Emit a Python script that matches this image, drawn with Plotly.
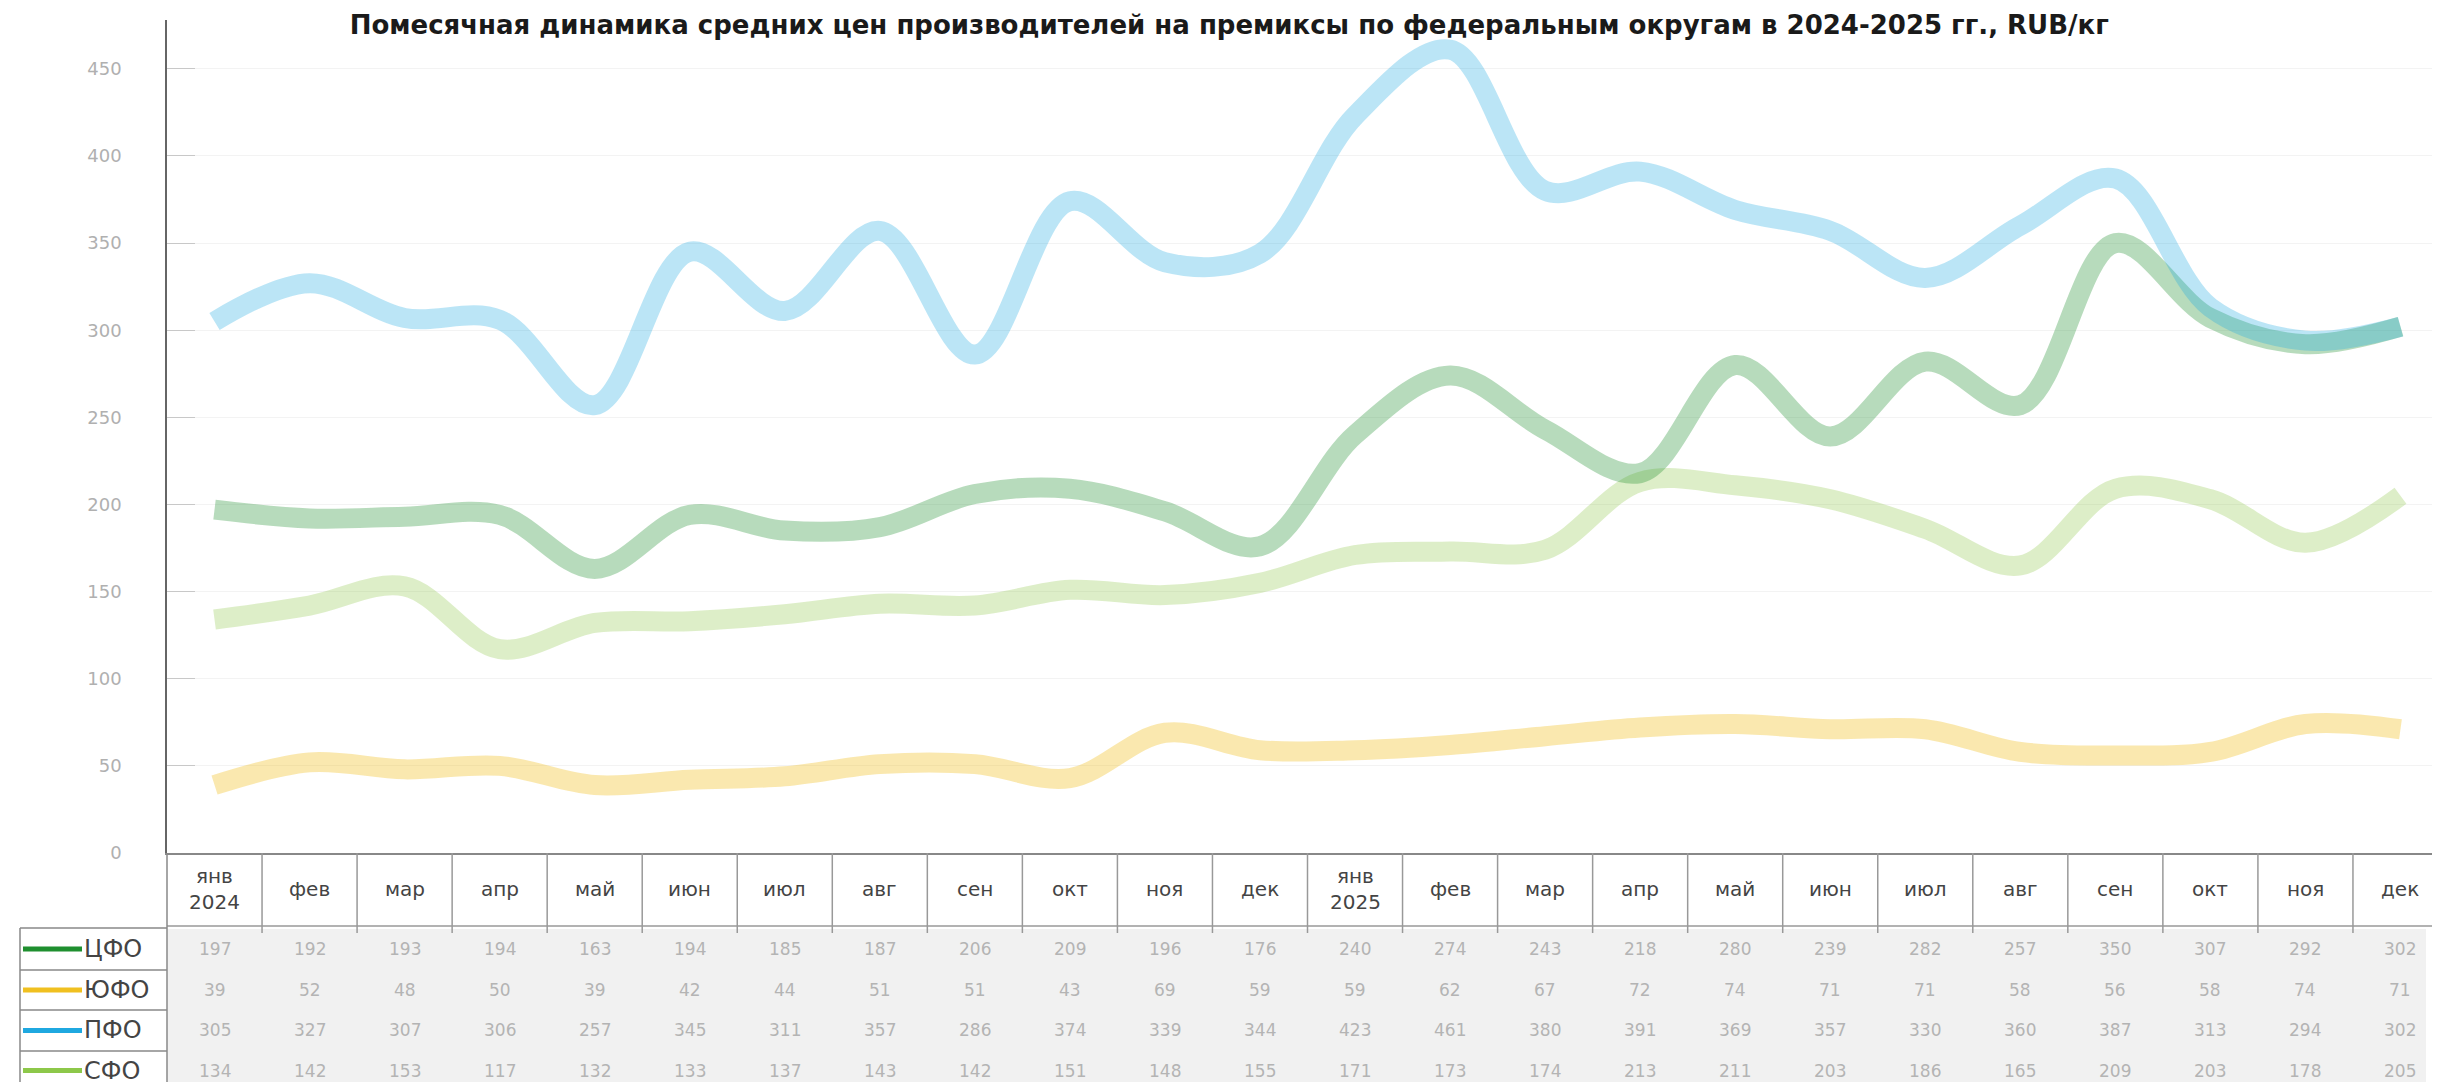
import plotly.graph_objects as go

# ---------------- data ----------------
months = ["янв 2024", "фев 2024", "мар 2024", "апр 2024", "май 2024", "июн 2024",
          "июл 2024", "авг 2024", "сен 2024", "окт 2024", "ноя 2024", "дек 2024",
          "янв 2025", "фев 2025", "мар 2025", "апр 2025", "май 2025", "июн 2025",
          "июл 2025", "авг 2025", "сен 2025", "окт 2025", "ноя 2025", "дек 2025"]
month_labels = ["янв<br>2024", "фев", "мар", "апр", "май", "июн", "июл", "авг", "сен",
                "окт", "ноя", "дек", "янв<br>2025", "фев", "мар", "апр", "май", "июн",
                "июл", "авг", "сен", "окт", "ноя", "дек"]

cfo = [197, 192, 193, 194, 163, 194, 185, 187, 206, 209, 196, 176,
       240, 274, 243, 218, 280, 239, 282, 257, 350, 307, 292, 302]
yufo = [39, 52, 48, 50, 39, 42, 44, 51, 51, 43, 69, 59,
        59, 62, 67, 72, 74, 71, 71, 58, 56, 58, 74, 71]
pfo = [305, 327, 307, 306, 257, 345, 311, 357, 286, 374, 339, 344,
       423, 461, 380, 391, 369, 357, 330, 360, 387, 313, 294, 302]
sfo = [134, 142, 153, 117, 132, 133, 137, 143, 142, 151, 148, 155,
       171, 173, 174, 213, 211, 203, 186, 165, 209, 203, 178, 205]

series_names = ["ЦФО", "ЮФО", "ПФО", "СФО"]
series_values = [cfo, yufo, pfo, sfo]
series_colors = ["#1f8f2f", "#f0c020", "#1fa8e0", "#8dc84a"]
line_colors = ["rgba(31,143,47,0.32)", "rgba(240,192,32,0.36)",
               "rgba(31,168,224,0.30)", "rgba(141,200,74,0.30)"]

y_ticks = [0, 50, 100, 150, 200, 250, 300, 350, 400, 450]

title = "Помесячная динамика средних цен производителей на премиксы по федеральным округам в 2024-2025 гг., RUB/кг"

# ---------------- layout geometry ----------------
W, H = 2440, 1082
ML, MR, MT, MB = 159, 0, 12, 237
PW, PH = W - ML - MR, H - MT - MB


def xp(px):
    return (px - ML) / PW


def yp(py):
    return (H - MB - py) / PH


FONT = "DejaVu Sans"

fig = go.Figure()

# draw order: light green, dark green, yellow, blue (blue on top)
for idx in [3, 1, 0, 2]:
    fig.add_trace(go.Scatter(
        x=months, y=series_values[idx], name=series_names[idx], mode="lines",
        line=dict(color=line_colors[idx], width=20, shape="spline", smoothing=1.0),
        hoverinfo="skip", showlegend=False,
    ))

shapes = []
annotations = []

# header row (month labels) grid
shapes.append(dict(type="line", xref="paper", yref="paper", x0=0, x1=1,
                   y0=yp(918), y1=yp(918), line=dict(color="#999", width=1.5)))
for i in range(1, len(months)):
    shapes.append(dict(type="line", xref="x", yref="paper", x0=i - 0.5, x1=i - 0.5,
                       y0=yp(845), y1=yp(925), line=dict(color="#999", width=1.5)))
for lab, m in zip(month_labels, months):
    annotations.append(dict(xref="x", yref="paper", x=m, y=yp(881), text=lab,
                            showarrow=False, xanchor="center", yanchor="middle",
                            font=dict(family=FONT, size=20, color="#444"),
                            align="center"))

# values area background
shapes.append(dict(type="rect", xref="paper", yref="paper", x0=0, x1=xp(2418),
                   y0=yp(921), y1=yp(1082), fillcolor="#f1f1f1",
                   line=dict(width=0), layer="below"))

# legend column box
row_tops = [920, 962, 1002, 1043]
row_h = [42, 40, 41, 39]
shapes.append(dict(type="line", xref="paper", yref="paper", x0=xp(12), x1=xp(12),
                   y0=yp(920), y1=yp(1082), line=dict(color="#888", width=1.5)))
shapes.append(dict(type="line", xref="paper", yref="paper", x0=0, x1=0,
                   y0=yp(845), y1=yp(1082), line=dict(color="#888", width=1.5)))
for t in row_tops:
    shapes.append(dict(type="line", xref="paper", yref="paper", x0=xp(12), x1=0,
                       y0=yp(t), y1=yp(t), line=dict(color="#888", width=1.5)))

for k, name in enumerate(series_names):
    cy = row_tops[k] + row_h[k] / 2
    shapes.append(dict(type="line", xref="paper", yref="paper", x0=xp(15), x1=xp(74),
                       y0=yp(cy), y1=yp(cy),
                       line=dict(color=series_colors[k], width=5)))
    annotations.append(dict(xref="paper", yref="paper", x=xp(74), y=yp(cy), text=name,
                            showarrow=False, xanchor="left", yanchor="middle",
                            font=dict(family=FONT, size=24, color="#444")))
    for m, v in zip(months, series_values[k]):
        annotations.append(dict(xref="x", yref="paper", x=m, y=yp(cy), text=str(v),
                                showarrow=False, xanchor="center", yanchor="middle",
                                font=dict(family=FONT, size=17, color="#b4b4b4")))

fig.update_layout(
    width=W, height=H,
    margin=dict(l=ML, r=MR, t=MT, b=MB),
    paper_bgcolor="white", plot_bgcolor="white",
    title=dict(text="<b>" + title + "</b>", x=0.5005, xanchor="center",
               y=1 - 17 / H, yanchor="middle", yref="container",
               font=dict(family=FONT, size=26, color="#1a1a1a")),
    xaxis=dict(range=[-0.5, len(months) - 0.5], showgrid=False, zeroline=False,
               showticklabels=False, ticks="", showline=True, linecolor="#888",
               linewidth=1.5, fixedrange=True),
    yaxis=dict(range=[0, 478], tickvals=y_ticks, ticks="inside", ticklen=28,
               tickcolor="#c8c8c8", tickwidth=1, showline=True, linecolor="#666",
               linewidth=1.5, showgrid=True, gridcolor="#f3f3f3", zeroline=False,
               tickfont=dict(family=FONT, size=18, color="#b0b0b0"),
               ticklabelstandoff=40),
    yaxis2=dict(range=[0, 478], tickvals=y_ticks, overlaying="y", side="right",
                ticks="inside", ticklen=32, tickcolor="#c8c8c8", showline=False,
                showgrid=False, zeroline=False, showticklabels=False),
    shapes=shapes,
    annotations=annotations,
    showlegend=False,
)

fig.write_html("out.html")
